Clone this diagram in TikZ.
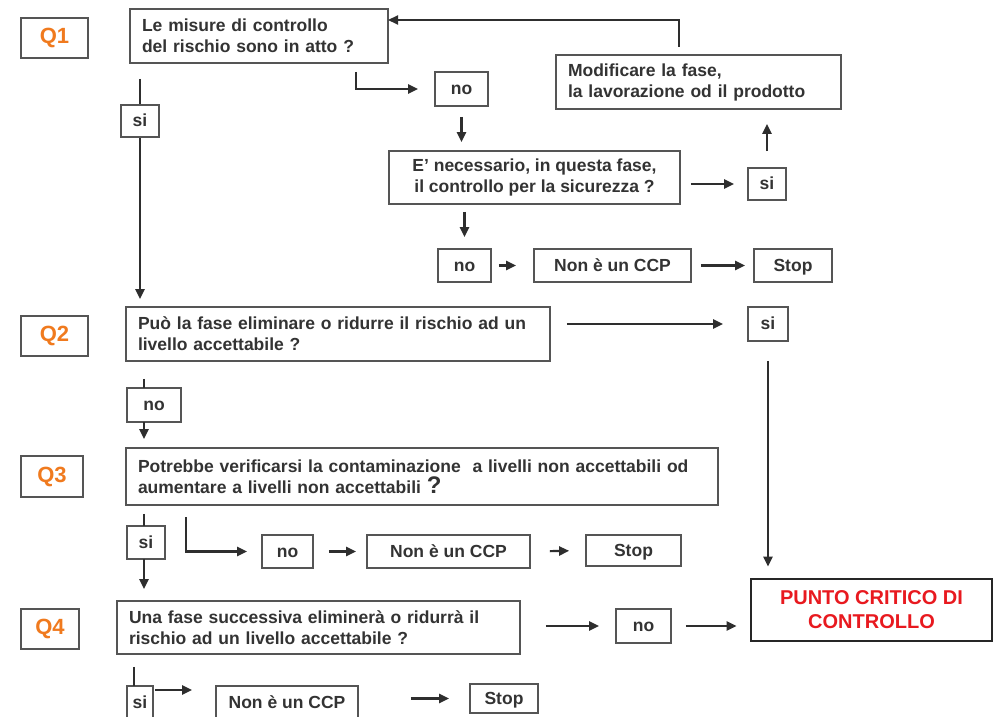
\documentclass[tikz,border=0pt]{standalone}
\usepackage{fontspec}
\setmainfont{Liberation Sans}
\usetikzlibrary{arrows.meta}
\definecolor{txt}{HTML}{333333}
\definecolor{bordc}{HTML}{555555}
\definecolor{linec}{HTML}{2E2E2E}
\definecolor{qorange}{HTML}{F07A1E}
\definecolor{pred}{HTML}{E8191F}
\begin{document}
\begin{tikzpicture}[x=1pt,y=-1pt,
  box/.style={draw=bordc, line width=1.7pt, inner sep=0pt, text=txt,
    font=\bfseries\fontsize{17.5}{21}\selectfont},
  lbox/.style={box, align=left, inner xsep=12pt},
  cbox/.style={box, align=center},
  sbox/.style={box, text height=14.5pt, text depth=3pt},
  qbox/.style={draw=bordc, line width=1.7pt, inner sep=0pt, text=qorange,
    font=\bfseries\fontsize{22}{24}\selectfont},
  pbox/.style={draw=black!85, line width=2.8pt, inner sep=0pt, text=pred, align=center,
    font=\bfseries\fontsize{20}{24}\selectfont},
  conn/.style={draw=linec, line width=2.2pt},
  arr/.style={conn, -{Triangle[length=10pt,width=9pt]}}]
\useasboundingbox[fill=white] (0,0) rectangle (994,717);

% Q labels
\node[qbox, minimum width=67pt, minimum height=40pt] (q1) at (54.5,38) {Q1};
\node[qbox, minimum width=67pt, minimum height=40pt] (q2) at (54.5,336) {Q2};
\node[qbox, minimum width=62pt, minimum height=41pt] (q3) at (52,476.5) {Q3};
\node[qbox, minimum width=58pt, minimum height=40pt] (q4) at (50,629) {Q4};

% Q1 part
\node[lbox, text width=234pt, minimum height=54pt] (b1) at (259,36) {Le misure di controllo\\del rischio sono in atto ?};
\node[lbox, text width=261pt, minimum height=54pt] (mod) at (698.5,82) {Modificare la fase,\\la lavorazione od il prodotto};
\node[sbox, minimum width=53pt, minimum height=34pt] (no1) at (461.5,89) {no};
\node[cbox, minimum width=291pt, minimum height=53pt] (e) at (534.5,177.5) {E' necessario, in questa fase,\\il controllo per la sicurezza ?};
\node[sbox, minimum width=38pt, minimum height=32pt] (si2) at (767,184) {si};
\node[sbox, minimum width=53pt, minimum height=33pt] (no2) at (464.5,265.5) {no};
\node[sbox, minimum width=157pt, minimum height=33pt] (ncc1) at (612.5,265.5) {Non è un CCP};
\node[sbox, minimum width=78pt, minimum height=33pt] (stop1) at (793,265.5) {Stop};
\node[sbox, minimum width=38pt, minimum height=32pt] (si1) at (140,121) {si};

% Q2 part
\node[lbox, text width=400pt, minimum height=54pt] (b2) at (338,334) {Può la fase eliminare o ridurre il rischio ad un\\livello accettabile ?};
\node[sbox, minimum width=40pt, minimum height=34pt] (si3) at (768,324) {si};
\node[pbox, minimum width=241pt, minimum height=62pt] (punto) at (871.5,610) {PUNTO CRITICO DI\\CONTROLLO};
\node[sbox, minimum width=54pt, minimum height=34pt] (no3) at (154,405) {no};

% Q3 part
\node[lbox, text width=568pt, minimum height=57pt] (b3) at (422,476.5) {Potrebbe verificarsi la contaminazione\ \ a livelli non accettabili od\\aumentare a livelli non accettabili {\fontsize{24}{21}\selectfont ?}};
\node[sbox, minimum width=38pt, minimum height=33pt] (si4) at (146,542.5) {si};
\node[sbox, minimum width=51pt, minimum height=33pt] (no4) at (287.5,551.5) {no};
\node[sbox, minimum width=163pt, minimum height=33pt] (ncc2) at (448.5,551.5) {Non è un CCP};
\node[sbox, minimum width=95pt, minimum height=31pt] (stop2) at (633.5,550.5) {Stop};

% Q4 part
\node[lbox, text width=379pt, minimum height=53pt] (b4) at (318.5,627.5) {Una fase successiva eliminerà o ridurrà il\\rischio ad un livello accettabile ?};
\node[sbox, minimum width=55pt, minimum height=34pt] (no5) at (643.5,626) {no};
\node[sbox, minimum width=26pt, minimum height=34pt] (si5) at (140,703) {si};
\node[sbox, minimum width=142pt, minimum height=34pt] (ncc3) at (287,703) {Non è un CCP};
\node[sbox, minimum width=68pt, minimum height=29pt] (stop3) at (504,698.5) {Stop};

% helper coordinates
\coordinate (mtop) at (679,47);
\coordinate (b1in) at (388,20);
\coordinate (b1out) at (356,72);
\coordinate (n3t) at (144,388);
\coordinate (n3b) at (144,422);
\coordinate (s4t) at (144,526);
\coordinate (s4b) at (144,559);
\coordinate (b3out) at (186,517);
\coordinate (s5t) at (134,686);
\coordinate (s5e) at (153,690);

% Q1 connectors
\draw[arr] (mtop) |- (b1in);
\draw[arr, shorten >=16pt] (b1out) |- (no1.west);
\draw[arr, shorten <=10pt, shorten >=8pt] (no1.south) -- (no1.south |- e.north);
\draw[arr, shorten <=10pt, shorten >=13pt] (si2.west -| e.east) -- (si2.west);
\draw[arr, shorten <=16pt, shorten >=14pt] (si2.north) -- (si2.north |- mod.south);
\draw[arr, shorten <=7pt, shorten >=11pt] (no2.north |- e.south) -- (no2.north);
\draw[arr, shorten <=7pt, shorten >=17pt] (no2.east) -- (ncc1.west);
\draw[arr, shorten <=9pt, shorten >=8pt] (ncc1.east) -- (stop1.west);
\draw[conn, shorten <=15pt] (si1.north |- b1.south) -- (si1.north);
\draw[arr, shorten >=7pt] (si1.south) -- (si1.south |- b2.north);

% Q2 connectors
\draw[arr, shorten <=16pt, shorten >=24pt] (si3.west -| b2.east) -- (si3.west);
\draw[arr, shorten <=19pt, shorten >=11pt] (si3.south) -- (si3.south |- punto.north);
\draw[conn, shorten <=17pt] (n3t |- b2.south) -- (n3t);
\draw[arr, shorten >=8pt] (n3b) -- (n3b |- b3.north);

% Q3 connectors
\draw[conn, shorten <=8pt] (s4t |- b3.south) -- (s4t);
\draw[arr, shorten >=11pt] (s4b) -- (s4b |- b4.north);
\draw[arr, shorten >=14pt] (b3out) |- (no4.west);
\draw[arr, shorten <=15pt, shorten >=10pt] (no4.east) -- (ncc2.west);
\draw[arr, shorten <=19pt, shorten >=16pt] (ncc2.east) -- (stop2.west);

% Q4 connectors
\draw[arr, shorten <=25pt, shorten >=16pt] (no5.west -| b4.east) -- (no5.west);
\draw[arr, shorten <=14pt, shorten >=13pt] (no5.east) -- (no5.east -| punto.west);
\draw[conn, shorten <=12pt] (s5t |- b4.south) -- (s5t);
\draw[arr, shorten <=2pt, shorten >=23pt] (s5e) -- (s5e -| ncc3.west);
\draw[arr, shorten <=52pt, shorten >=20pt] (stop3.west -| ncc3.east) -- (stop3.west);
\end{tikzpicture}
\end{document}
